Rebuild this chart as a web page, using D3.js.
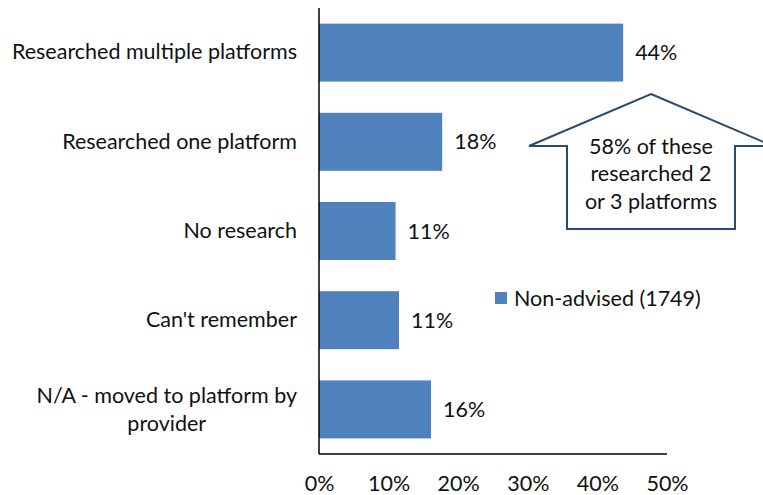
<!DOCTYPE html>
<html>
<head>
<meta charset="utf-8">
<script src="https://cdn.jsdelivr.net/npm/d3@7"></script>
<style>
  body { margin: 0; background: #fff; }
  text { font-family: Lato, "Open Sans", sans-serif; fill: #111; }
</style>
</head>
<body>
<svg id="chart" width="763" height="495"></svg>
<script>
// data
const categories = [
  "Researched multiple platforms",
  "Researched one platform",
  "No research",
  "Can't remember",
  "N/A - moved to platform by provider"
];
const values = [0.437, 0.177, 0.110, 0.115, 0.161];
const valueLabels = ["44%", "18%", "11%", "11%", "16%"];
const xTicks = [0, 0.1, 0.2, 0.3, 0.4, 0.5];
const seriesName = "Non-advised (1749)";
const calloutLines = ["58% of these", "researched 2", "or 3 platforms"];

const data = categories.map((c, i) => ({ cat: c, value: values[i], label: valueLabels[i] }));

const svg = d3.select("#chart");
const width = 763, height = 495;
const margin = { top: 8, right: 96, bottom: 41, left: 319 };
const fontSize = 21.5;

const x = d3.scaleLinear()
  .domain([0, 0.5])
  .range([margin.left, width - margin.right]);

const y = d3.scaleBand()
  .domain(categories)
  .range([margin.top, height - margin.bottom])
  .paddingInner(0.35)
  .paddingOuter(0.175);

// bars
svg.append("g")
  .attr("fill", "#4f81bd")
  .selectAll("rect")
  .data(data)
  .join("rect")
    .attr("x", x(0))
    .attr("y", d => y(d.cat))
    .attr("width", d => x(d.value) - x(0))
    .attr("height", y.bandwidth());

// value labels
svg.append("g")
  .selectAll("text")
  .data(data)
  .join("text")
    .attr("x", d => x(d.value) + 12)
    .attr("y", d => y(d.cat) + y.bandwidth() / 2)
    .attr("dy", "0.35em")
    .style("font-size", fontSize + "px")
    .text(d => d.label);

// y axis (line only, wrapped labels)
const yAxis = svg.append("g")
  .attr("transform", `translate(${margin.left},0)`)
  .call(d3.axisLeft(y).tickSize(0).tickPadding(22));
yAxis.select(".domain").attr("stroke", "#000").attr("stroke-width", 1.5)
  .attr("d", `M0,${margin.top}V${height - margin.bottom}`);
yAxis.selectAll(".tick text")
  .style("font-size", fontSize + "px")
  .attr("fill", "#111")
  .each(function(d) {
    const t = d3.select(this);
    if (d.length > 30) {
      // wrap long label into two centred lines
      const lines = ["N/A - moved to platform by", "provider"];
      t.text(null).attr("dy", null);
      const first = t.append("tspan").text(lines[0]);
      const w = this.getComputedTextLength();
      const mid = -22 - w / 2;
      t.attr("text-anchor", "middle").attr("x", mid);
      first.attr("x", mid).attr("y", -14).attr("dy", "0.35em");
      t.append("tspan").attr("x", mid).attr("y", 14).attr("dy", "0.35em").text(lines[1]);
    }
  });

// x axis (line only)
const xAxis = svg.append("g")
  .attr("transform", `translate(0,${height - margin.bottom})`)
  .call(d3.axisBottom(x).tickValues(xTicks).tickFormat(d3.format(".0%")).tickSize(0).tickPadding(22));
xAxis.select(".domain").attr("stroke", "#000").attr("stroke-width", 1.5)
  .attr("d", `M${x(0)},0H${x(0.5)}`);
xAxis.selectAll(".tick text").style("font-size", fontSize + "px").attr("fill", "#111");
svg.selectAll(".tick line").remove();

// legend
const legend = svg.append("g").attr("transform", "translate(495,292)");
legend.append("rect").attr("width", 12).attr("height", 12).attr("fill", "#4f81bd");
legend.append("text").attr("x", 19).attr("y", 6).attr("dy", "0.35em")
  .style("font-size", fontSize + "px").text(seriesName);

// callout arrow pointing up at the first bar
const cx = x(0.477), tipY = 94, wingY = 146, baseY = 229;
const arrow = [
  [cx, tipY], [cx + 122, wingY], [cx + 84, wingY], [cx + 84, baseY],
  [cx - 84, baseY], [cx - 84, wingY], [cx - 122, wingY]
];
svg.append("path")
  .attr("d", d3.line()(arrow) + "Z")
  .attr("fill", "#fff")
  .attr("stroke", "#2c4a70")
  .attr("stroke-width", 2);
svg.append("g")
  .selectAll("text")
  .data(calloutLines)
  .join("text")
    .attr("x", cx)
    .attr("y", (d, i) => 146 + i * 27.5)
    .attr("dy", "0.35em")
    .attr("text-anchor", "middle")
    .style("font-size", fontSize + "px")
    .text(d => d);
</script>
</body>
</html>
